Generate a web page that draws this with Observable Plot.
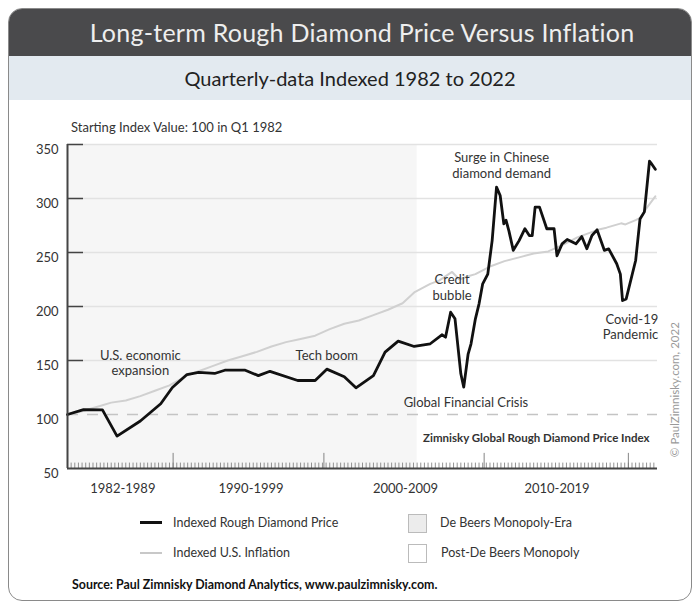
<!DOCTYPE html>
<html>
<head>
<meta charset="utf-8">
<script src="https://cdn.jsdelivr.net/npm/d3@7"></script>
<script src="https://cdn.jsdelivr.net/npm/@observablehq/plot@0.6"></script>
<style>
  html, body { margin: 0; padding: 0; background: #fff; }
  body { width: 699px; height: 602px; position: relative; overflow: hidden; font-family: Lato, "Open Sans", sans-serif; }
  #card { position: absolute; left: 8px; top: 8px; width: 682px; height: 591px; border: 1px solid #8a8a8a; border-radius: 14px; overflow: hidden; background: #fff; }
  #titlebar { position: absolute; left: 0; top: 0; width: 100%; height: 47px; background: #4a4a4c; color: #eeeeee; font-size: 25px; text-align: center; line-height: 47px; letter-spacing: 0.25px; box-sizing: border-box; padding-left: 24px; }
  #subbar { position: absolute; left: 0; top: 47px; width: 100%; height: 44px; background: #e3eaf0; color: #222; font-size: 20px; text-align: center; line-height: 44px; }
  #chart { position: absolute; left: 0; top: 110px; }
  .note { position: absolute; font-size: 13px; color: #333; white-space: nowrap; }
  .leg { position: absolute; font-size: 12.5px; color: #333; white-space: nowrap; line-height: 16px; }
  .sw { position: absolute; }
  #source { position: absolute; left: 72px; top: 577px; font-size: 12.4px; font-weight: bold; color: #111; white-space: nowrap; }
</style>
</head>
<body>
<div id="card">
  <div id="titlebar">Long-term Rough Diamond Price Versus Inflation</div>
  <div id="subbar">Quarterly-data Indexed 1982 to 2022</div>
</div>
<div class="note" style="left:71px; top:119px;">Starting Index Value: 100 in Q1 1982</div>
<div id="chart"></div>

<div class="sw" style="left:140px; top:521px; width:22px; height:3px; background:#111;"></div>
<div class="leg" style="left:173px; top:515px;">Indexed Rough Diamond Price</div>
<div class="sw" style="left:140px; top:552px; width:22px; height:2px; background:#c8c8c8;"></div>
<div class="leg" style="left:173px; top:545px;">Indexed U.S. Inflation</div>
<div class="sw" style="left:408px; top:514px; width:17px; height:17px; background:#ececec; border:1px solid #bbb;"></div>
<div class="leg" style="left:440px; top:515px;">De Beers Monopoly-Era</div>
<div class="sw" style="left:408px; top:544px; width:17px; height:17px; background:#fff; border:1px solid #bbb;"></div>
<div class="leg" style="left:441px; top:545px;">Post-De Beers Monopoly</div>
<div id="source">Source: Paul Zimnisky Diamond Analytics, www.paulzimnisky.com.</div>

<script>
// ---- Data ----
const diamondYear = [1982.0,1983.1,1984.4,1985.4,1987.0,1988.4,1989.2,1990.2,1991.0,1992.1,1992.8,1994.2,1995.1,1995.9,1997.8,1999.0,1999.8,2001.0,2001.8,2003.0,2003.8,2004.7,2005.8,2006.9,2007.7,2007.95,2008.3,2008.6,2009.0,2009.2,2009.5,2009.7,2010.0,2010.25,2010.5,2010.85,2011.15,2011.45,2011.7,2011.95,2012.1,2012.3,2012.6,2013.0,2013.4,2013.7,2013.9,2014.1,2014.4,2014.9,2015.4,2015.6,2015.95,2016.3,2016.9,2017.3,2017.65,2018.0,2018.35,2018.85,2019.15,2019.7,2019.95,2020.1,2020.35,2021.0,2021.3,2021.6,2021.95,2022.1,2022.35];
const diamondValue = [100,104.5,104.3,80,94,110,125,137,139,138,141,141,136,140,131.5,131.5,142,135,124.7,136,157.7,168,163,165.5,173.8,171.6,194.7,188.6,137.7,125.3,156,165.5,188.6,202.5,221,230,261,310.5,302.8,276.6,280,270,252,261,272,265.7,265.7,292,292,272,272,247,258,262,258,264.8,253.4,265.7,271,252,253.4,239.6,230,205.5,207,242.6,281,287.6,334.5,332,327];

const inflationYear = [1982.0,1983.0,1984.0,1985.0,1986.0,1987.0,1988.0,1989.0,1990.2,1991.0,1992.0,1993.0,1994.0,1995.0,1996.0,1997.0,1998.0,1999.0,2000.0,2001.0,2002.0,2003.0,2004.0,2005.0,2005.8,2006.9,2007.5,2008.4,2008.9,2009.5,2010.0,2011.0,2012.0,2013.0,2014.0,2015.0,2016.0,2017.0,2018.4,2019.0,2020.0,2020.3,2021.0,2021.3,2021.8,2022.35];
const inflationValue = [100,103,107,111,113,117,122,127,136,140,145,150,154,158,163,167,170,173,179,184,187,192,197,203,213,221,224,232,225,228,230,237,242,245.5,249,251,257,264,271,273,277,276,280,282,292,302];

const yTicks = [50,100,150,200,250,300,350];
const gridValues = [150,200,250,300,350];
const baseline = [100];
const eraStart = 1982, eraEnd = 2006;
const periodLabels = ["1982-1989","1990-1999","2000-2009","2010-2019"];
const periodCenters = [1985.8,1994.6,2005.2,2015.6];
const majorTicks = [1989.25,1999.6,2010.6,2020.5];
const quarterTicks = d3.range(1982.25, 2022.5, 0.25);

const centeredNotes = [
  {x: 1987.0, y: 148, text: "U.S. economic\nexpansion"},
  {x: 1999.8, y: 155.5, text: "Tech boom"},
  {x: 2008.4, y: 218, text: "Credit\nbubble"},
  {x: 2011.8, y: 331, text: "Surge in Chinese\ndiamond demand"},
  {x: 2009.35, y: 111.5, text: "Global Financial Crisis"}
];
const endNotes = [
  {x: 2022.55, y: 181.5, text: "Covid-19\nPandemic"}
];

const diamond = diamondYear.map((t, i) => ({t, v: diamondValue[i]}));
const inflation = inflationYear.map((t, i) => ({t, v: inflationValue[i]}));

const plot = Plot.plot({
  width: 699,
  height: 390,
  marginLeft: 67,
  marginRight: 42,
  marginTop: 34,
  marginBottom: 32,
  style: {fontFamily: "Lato, sans-serif", fontSize: "12.5px", background: "transparent", color: "#333", overflow: "visible"},
  x: {domain: [1982, 2022.5], axis: null},
  y: {domain: [50, 350], axis: null},
  marks: [
    Plot.rect([{x1: eraStart, x2: eraEnd}], {x1: "x1", x2: "x2", y1: 50, y2: 350, fill: "#f6f6f6"}),
    Plot.ruleY(gridValues, {x1: 1982, x2: 2022.5, stroke: "#e2e2e2", strokeWidth: 1.3}),
    Plot.ruleY(baseline, {x1: 1982, x2: 2022.5, stroke: "#c4c4c4", strokeWidth: 1.3, strokeDasharray: "11,9"}),
    Plot.line(inflation, {x: "t", y: "v", stroke: "#d0d0d0", strokeWidth: 2}),
    Plot.line(diamond, {x: "t", y: "v", stroke: "#111", strokeWidth: 2.8, strokeLinejoin: "round"}),
    // axes
    Plot.ruleY(gridValues, {x1: 1982, x2: 1983.1, stroke: "#444", strokeWidth: 1.5}),
    Plot.ruleX(quarterTicks, {y1: 50, y2: 55, stroke: "#777", strokeWidth: 0.8}),
    Plot.ruleX(majorTicks, {y1: 50, y2: 64, stroke: "#777", strokeWidth: 0.9}),
    Plot.ruleX([1982], {y1: 50, y2: 350, stroke: "#444", strokeWidth: 2}),
    Plot.ruleY([50], {x1: 1982, x2: 2022.5, stroke: "#444", strokeWidth: 2}),
    Plot.text(yTicks, {x: 1982, y: d => d, dx: -9, dy: 5, textAnchor: "end", fill: "#333", fontSize: 13}),
    Plot.text(periodLabels, {x: (d, i) => periodCenters[i], y: 50, dy: 20, fill: "#333", fontSize: 13}),
    Plot.text(centeredNotes, {x: "x", y: "y", text: "text", textAnchor: "middle", fill: "#333", fontSize: 13, lineHeight: 1.2}),
    Plot.text(endNotes, {x: "x", y: "y", text: "text", textAnchor: "end", fill: "#333", fontSize: 13, lineHeight: 1.2}),
    Plot.text(["Zimnisky Global Rough Diamond Price Index"], {x: 2021.95, y: 77.8, textAnchor: "end", fill: "#333", fontSize: 11.5, fontWeight: "bold"}),
    Plot.text(["© PaulZimnisky.com, 2022"], {x: 2023.75, y: 123, rotate: -90, fill: "#9a9a9a", fontSize: 11.5})
  ]
});
document.getElementById("chart").appendChild(plot);
</script>
</body>
</html>
